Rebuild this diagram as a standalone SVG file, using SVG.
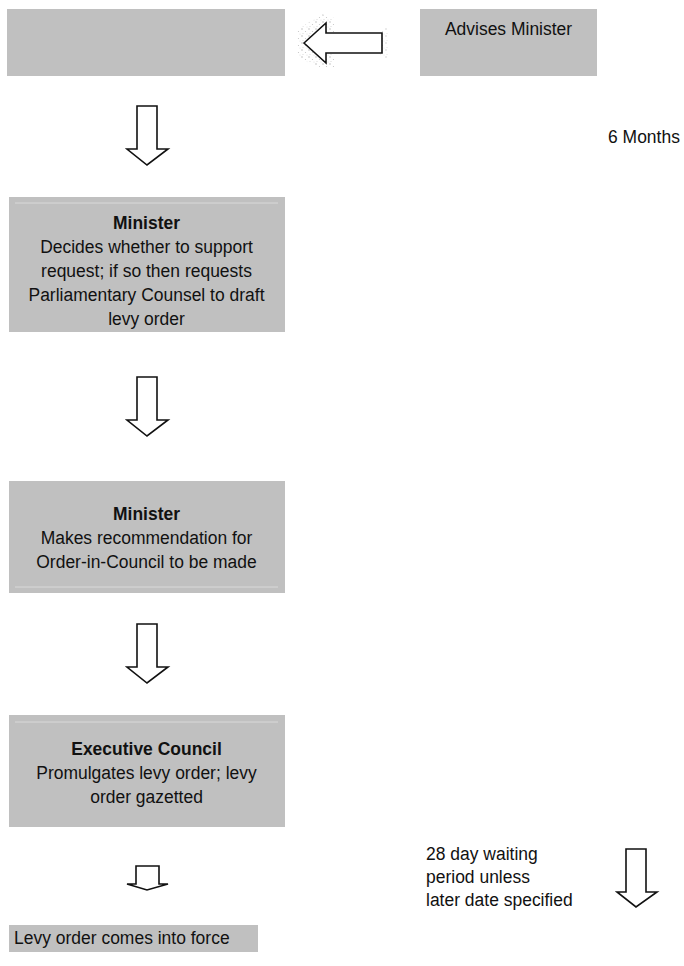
<svg xmlns="http://www.w3.org/2000/svg" width="684" height="966" viewBox="0 0 684 966">
<defs>
<style>
.box{fill:#c0c0c0;}
.inl{stroke:#d9d9d9;stroke-width:1;fill:none;}
.arr{fill:#ffffff;stroke:#111111;stroke-width:1.6;stroke-linejoin:miter;}
text{font-family:"Liberation Sans",Arial,sans-serif;font-size:19px;fill:#111111;}
.b{font-weight:bold;}
.c{text-anchor:middle;}
</style>
<pattern id="speck" width="7" height="7" patternUnits="userSpaceOnUse">
<circle cx="1" cy="1" r="0.7" fill="#b0b0b0"/>
<circle cx="4.5" cy="3.5" r="0.6" fill="#c4c4c4"/>
<circle cx="2" cy="5.5" r="0.5" fill="#cccccc"/>
<circle cx="6" cy="6" r="0.5" fill="#d4d4d4"/>
</pattern>
</defs>

<g id="node-top-left">
<rect class="box" x="7" y="9" width="278" height="67"/>
</g>

<g id="node-advises">
<rect class="box" x="420" y="9" width="177" height="67"/>
<g transform="translate(508.5,0) scale(0.92,1)"><text class="c" x="0" y="35">Advises Minister</text></g>
</g>

<g id="label-6months">
<g transform="translate(608,0) scale(0.92,1)"><text x="0" y="143">6 Months</text></g>
</g>

<g id="node-minister-1">
<rect class="box" x="9" y="197" width="276" height="135"/>
<line class="inl" x1="15" y1="203" x2="278" y2="203"/>
<g transform="translate(146.5,0) scale(0.92,1)">
<text class="c b" x="0" y="229">Minister</text>
<text class="c" x="0" y="253">Decides whether to support</text>
<text class="c" x="0" y="277">request; if so then requests</text>
<text class="c" x="0" y="301">Parliamentary Counsel to draft</text>
<text class="c" x="0" y="325">levy order</text>
</g>
</g>

<g id="node-minister-2">
<rect class="box" x="9" y="481" width="276" height="112"/>
<line class="inl" x1="15" y1="587" x2="278" y2="587"/>
<g transform="translate(146.5,0) scale(0.92,1)">
<text class="c b" x="0" y="520">Minister</text>
<text class="c" x="0" y="544">Makes recommendation for</text>
<text class="c" x="0" y="568">Order-in-Council to be made</text>
</g>
</g>

<g id="node-executive">
<rect class="box" x="9" y="715" width="276" height="112"/>
<line class="inl" x1="15" y1="722" x2="278" y2="722"/>
<g transform="translate(146.5,0) scale(0.92,1)">
<text class="c b" x="0" y="755">Executive Council</text>
<text class="c" x="0" y="779">Promulgates levy order; levy</text>
<text class="c" x="0" y="803">order gazetted</text>
</g>
</g>

<g id="node-in-force">
<rect class="box" x="9" y="925" width="249" height="27"/>
<g transform="translate(14,0) scale(0.92,1)"><text x="0" y="944">Levy order comes into force</text></g>
</g>

<g id="label-28day">
<g transform="translate(426,0) scale(0.92,1)">
<text x="0" y="860">28 day waiting</text>
<text x="0" y="883">period unless</text>
<text x="0" y="906">later date specified</text>
</g>
</g>

<g id="connectors">
<polygon points="297,30 322,14 334,18 334,68 322,68 297,58" fill="url(#speck)"/>
<rect x="380" y="28" width="8" height="30" fill="url(#speck)" opacity="0.7"/>
<polygon class="arr" points="304,43 326,23 326,33 382,33 382,53 326,53 326,63"/>
<polygon class="arr" points="137,106 157,106 157,149 168,149 147,165 127,149 137,149"/>
<polygon class="arr" points="137,377 157,377 157,420 168,420 147,436 127,420 137,420"/>
<polygon class="arr" points="137,624 157,624 157,667 168,667 147,683 127,667 137,667"/>
<polygon class="arr" points="136,866 159,866 159,884 168,884 147,890 127,884 136,884"/>
<polygon class="arr" points="626,849 646,849 646,892 657,892 636,907 617,892 626,892"/>
</g>
</svg>
